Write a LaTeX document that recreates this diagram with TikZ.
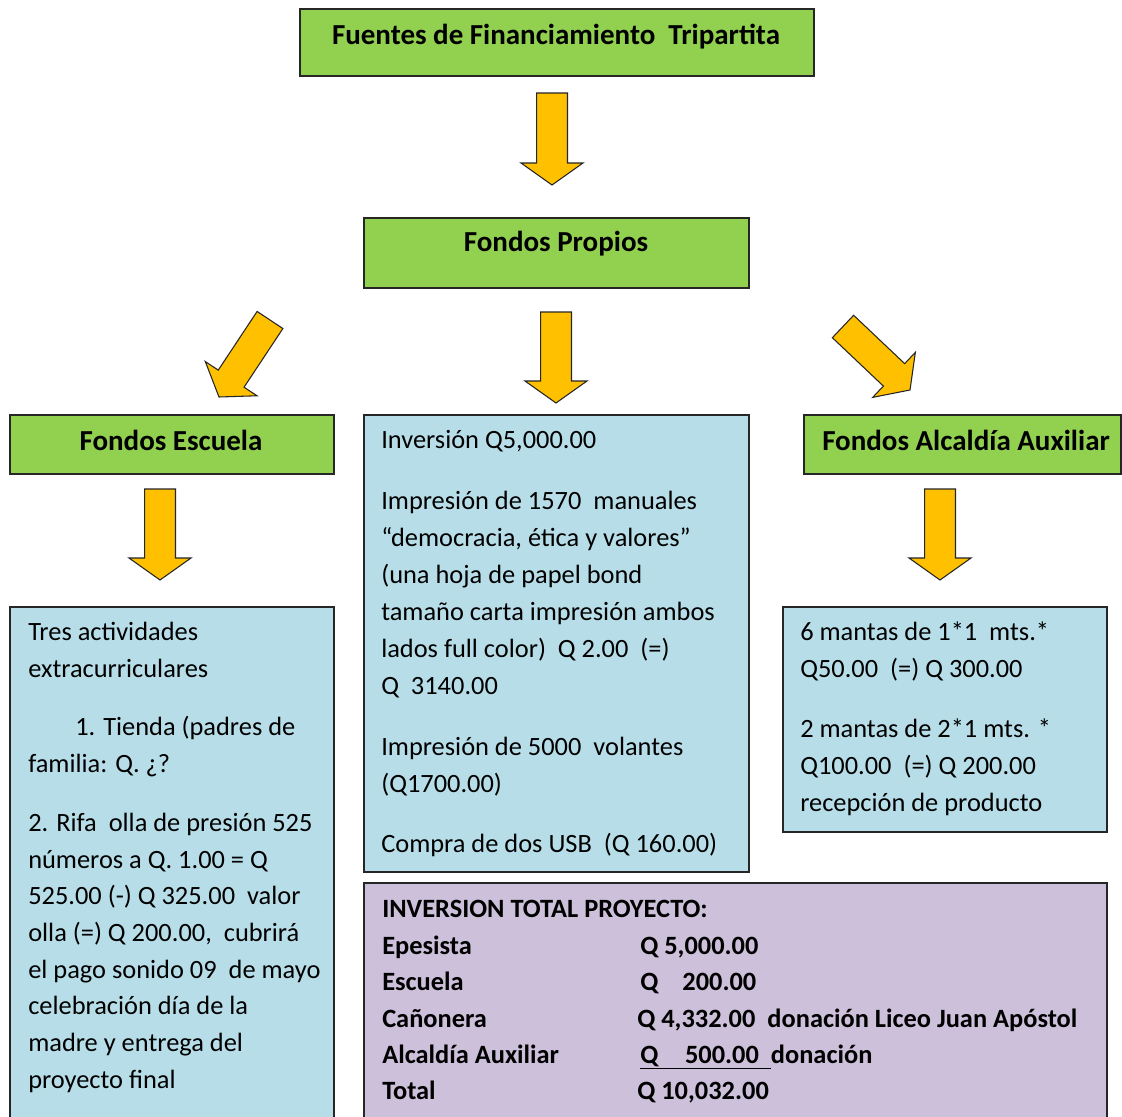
\documentclass[tikz,border=0pt]{standalone}
\usepackage{fontspec}
\setmainfont{Carlito}
\usetikzlibrary{calc}
\definecolor{boxgreen}{HTML}{92D050}
\definecolor{boxblue}{HTML}{B7DEE8}
\definecolor{boxpurple}{HTML}{CCC0DA}
\definecolor{arrowyellow}{HTML}{FFC000}
\definecolor{edge}{HTML}{262626}
\tikzset{
  box/.style={draw=edge, line width=0.9pt, anchor=north west, inner sep=0pt, outer sep=0pt},
  greenbox/.style={box, fill=boxgreen},
  bluebox/.style={box, fill=boxblue},
  purplebox/.style={box, fill=boxpurple},
  title/.style={font=\fontsize{21.75}{26}\selectfont\bfseries, anchor=base, inner sep=0pt},
  body/.style={font=\fontsize{19.8}{24}\selectfont, anchor=base west, inner sep=0pt},
  bodyb/.style={font=\fontsize{19.8}{24}\selectfont\bfseries, anchor=base west, inner sep=0pt},
  blockarr/.style={fill=arrowyellow, draw=edge, line width=0.8pt, line join=miter}
}
% block arrow from tail coordinate #1 to tip coordinate #2
\newcommand\myblockarrow[2]{%
  \coordinate (#1-h) at ($(#2)!16.5pt!(#1)$);
  \draw[blockarr] ($(#1)!11.6pt!90:(#2)$) -- ($(#1-h)!11.6pt!90:(#2)$)
    -- ($(#1-h)!23.25pt!90:(#2)$) -- (#2) -- ($(#1-h)!23.25pt!-90:(#2)$)
    -- ($(#1-h)!11.6pt!-90:(#2)$) -- ($(#1)!11.6pt!-90:(#2)$) -- cycle;
}
\begin{document}
\begin{tikzpicture}[x=0.75pt, y=-0.75pt]
\useasboundingbox (0,0) rectangle (1122,1117);
\fill[white] (0,0) rectangle (1122,1117);
\clip (0,0) rectangle (1122,1117);

% boxes
\node[greenbox, minimum width=385.5pt, minimum height=50.25pt] (top) at (300,9) {};
\node[greenbox, minimum width=288.75pt, minimum height=52.5pt] (propios) at (364,218) {};
\node[greenbox, minimum width=243pt, minimum height=44.25pt] (escuela) at (10,415) {};
\node[greenbox, minimum width=237.75pt, minimum height=44.25pt] (alcaldia) at (804,415) {};
\node[bluebox, minimum width=288.75pt, minimum height=342.75pt] (inv) at (364,415) {};
\node[bluebox, minimum width=243pt, minimum height=387pt] (escbox) at (10,607) {};
\node[bluebox, minimum width=243pt, minimum height=168.75pt] (alcbox) at (783,607) {};
\node[purplebox, minimum width=557.25pt, minimum height=185pt] (total) at (364,883) {};

% titles
\node[title] (ttop) at (556,45) {Fuentes de Financiamiento\ \ Tripartita};
\node[title] (tprop) at (556,251) {Fondos Propios};
\node[title] (tesc) at (171,450) {Fondos Escuela};
\node[title] (talc) at (966,450) {Fondos Alcaldía Auxiliar};

% arrows
\coordinate (a1) at (552,93);  \coordinate (a1t) at (552,185);
\coordinate (a2) at (556,312); \coordinate (a2t) at (556,403);
\coordinate (a3) at (270,320); \coordinate (a3t) at (219,397);
\coordinate (a4) at (843,326.5); \coordinate (a4t) at (910,390);
\coordinate (a5) at (160,489); \coordinate (a5t) at (160,580);
\coordinate (a6) at (940,489); \coordinate (a6t) at (940,580);
\myblockarrow{a1}{a1t}
\myblockarrow{a2}{a2t}
\myblockarrow{a3}{a3t}
\myblockarrow{a4}{a4t}
\myblockarrow{a5}{a5t}
\myblockarrow{a6}{a6t}

% center box text
\node[body] (i1) at (381,448) {Inversión Q5,000.00};
\node[body] (i2) at (381,509) {Impresión de 1570\ \ manuales};
\node[body] (i3) at (381,546) {“democracia, ética y valores”};
\node[body] (i4) at (381,583) {(una hoja de papel bond};
\node[body] (i5) at (381,620) {tamaño carta impresión ambos};
\node[body] (i6) at (381,657) {lados full color)\ \ Q 2.00\ \ (=)};
\node[body] (i7) at (381,694) {Q\ \ 3140.00};
\node[body] (i8) at (381,755) {Impresión de 5000\ \ volantes};
\node[body] (i9) at (381,792) {(Q1700.00)};
\node[body] (i10) at (381,852) {Compra de dos USB\ \ (Q 160.00)};

% left box text
\node[body] (e1) at (28,640) {Tres actividades};
\node[body] (e2) at (28,677) {extracurriculares};
\node[body] (e3) at (75,735) {1. Tienda (padres de};
\node[body] (e4) at (28,772) {familia: Q. ¿?};
\node[body] (e5) at (28,831) {2. Rifa\ \ olla de presión 525};
\node[body] (e6) at (28,868) {números a Q. 1.00 = Q};
\node[body] (e7) at (28,904) {525.00 (-) Q 325.00\ \ valor};
\node[body] (e8) at (28,941) {olla (=) Q 200.00,\ \ cubrirá};
\node[body] (e9) at (28,978) {el pago sonido 09\ \ de mayo};
\node[body] (e10) at (28,1014) {celebración día de la};
\node[body] (e11) at (28,1051) {madre y entrega del};
\node[body] (e12) at (28,1088) {proyecto final};

% right box text
\node[body] (r1) at (800,640) {6 mantas de 1*1\ \ mts.*};
\node[body] (r2) at (800,677) {Q50.00\ \ (=) Q 300.00};
\node[body] (r3) at (800,737) {2 mantas de 2*1 mts. *};
\node[body] (r4) at (800,774) {Q100.00\ \ (=) Q 200.00};
\node[body] (r5) at (800,811) {recepción de producto};

% purple box text
\node[bodyb] (p0) at (382,917) {INVERSION TOTAL PROYECTO:};
\node[bodyb] (p1) at (382,954) {Epesista};
\node[bodyb] (p1v) at (640,954) {Q 5,000.00};
\node[bodyb] (p2) at (382,990) {Escuela};
\node[bodyb] (p2v) at (640,990) {Q\hspace{18pt}200.00};
\node[bodyb] (p3) at (382,1027) {Cañonera};
\node[bodyb] (p3v) at (637,1027) {Q 4,332.00\ \ donación Liceo Juan Apóstol};
\node[bodyb] (p4) at (382,1063) {Alcaldía Auxiliar};
\node[bodyb] (p4v) at (640,1063) {\underline{Q\hspace{20pt}500.00\ \ }donación};
\node[bodyb] (p5) at (382,1099) {Total};
\node[bodyb] (p5v) at (637,1099) {Q 10,032.00};
\end{tikzpicture}
\end{document}
